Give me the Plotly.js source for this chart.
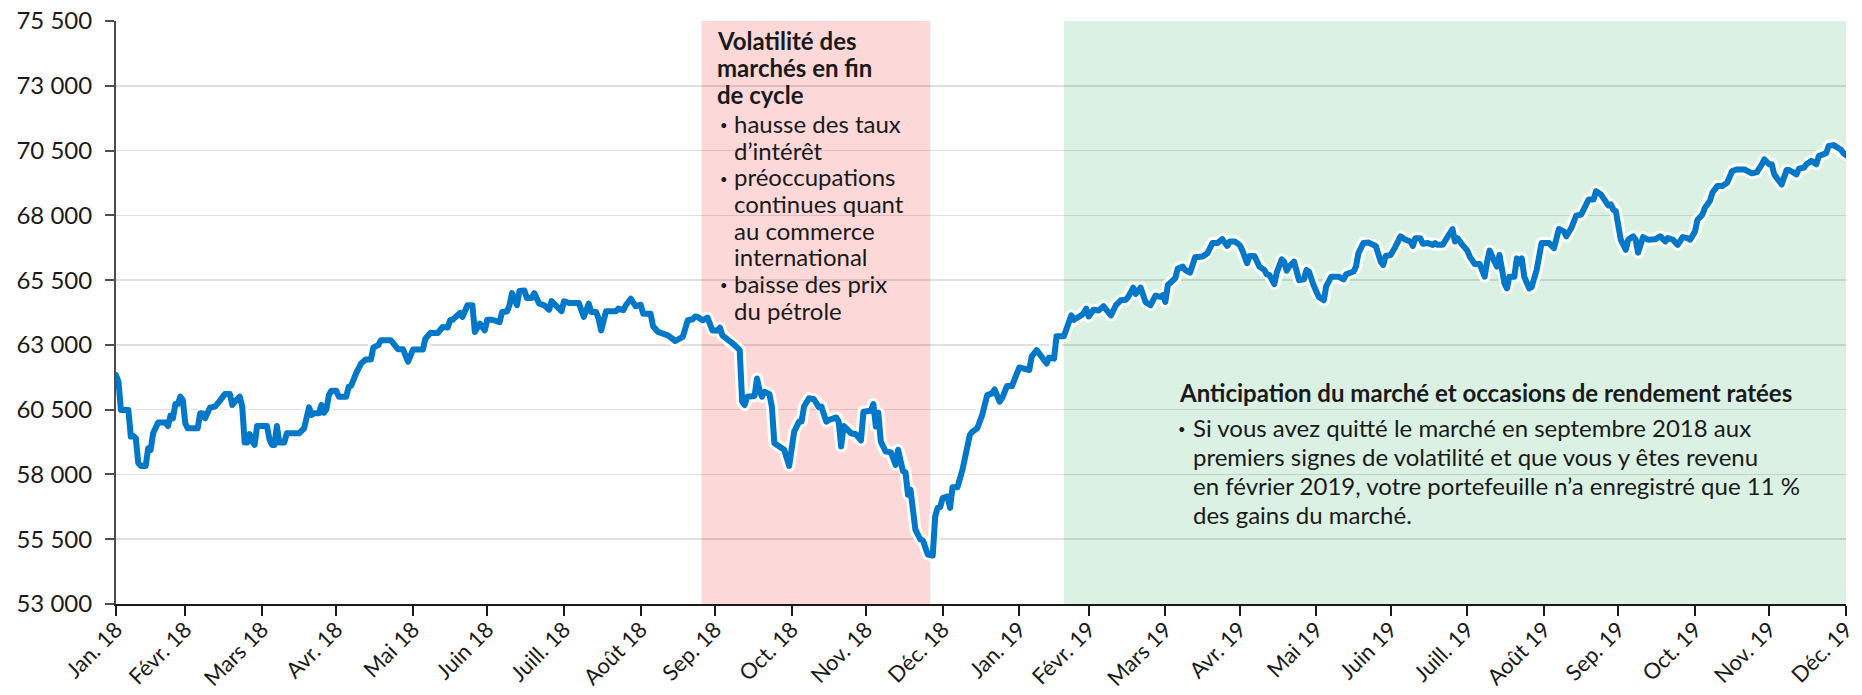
<!DOCTYPE html>
<html><head><meta charset="utf-8">
<script src="https://cdn.plot.ly/plotly-3.0.1.min.js"></script>
<style>html,body{margin:0;padding:0;background:#fff}#chart{width:1862px;height:695px}
#chart path.js-line{stroke-linejoin:round !important;stroke-linecap:round !important}</style>
</head><body><div id="chart"></div>
<script>
// ---------------- DATA ----------------
const dates2018 = ['2018-01-31','2018-02-01','2018-02-02','2018-02-05','2018-02-06','2018-02-07','2018-02-08','2018-02-09','2018-02-10','2018-02-12','2018-02-13','2018-02-14','2018-02-15','2018-02-17','2018-02-20','2018-02-21','2018-02-22','2018-02-23','2018-02-24','2018-02-25','2018-02-26','2018-02-27','2018-02-28',
'2018-03-01','2018-03-05','2018-03-06','2018-03-07','2018-03-08','2018-03-10','2018-03-12','2018-03-14','2018-03-16','2018-03-18','2018-03-19','2018-03-20','2018-03-22','2018-03-23','2018-03-24','2018-03-25','2018-03-26','2018-03-27','2018-03-28','2018-03-29',
'2018-04-02','2018-04-03','2018-04-04','2018-04-05','2018-04-06','2018-04-07','2018-04-09','2018-04-10','2018-04-15','2018-04-17','2018-04-18','2018-04-19','2018-04-20','2018-04-21','2018-04-23','2018-04-24','2018-04-25','2018-04-26','2018-04-27','2018-04-28','2018-04-30',
'2018-05-01','2018-05-04','2018-05-05','2018-05-06','2018-05-07','2018-05-08','2018-05-10','2018-05-12','2018-05-14','2018-05-15','2018-05-17','2018-05-18','2018-05-22','2018-05-24','2018-05-25','2018-05-27','2018-05-29','2018-05-31',
'2018-06-04','2018-06-05','2018-06-07','2018-06-10','2018-06-12','2018-06-14','2018-06-15','2018-06-16','2018-06-18','2018-06-19','2018-06-20','2018-06-21','2018-06-22','2018-06-24','2018-06-25','2018-06-27','2018-06-28','2018-06-29','2018-06-30',
'2018-07-02','2018-07-05','2018-07-06','2018-07-08','2018-07-09','2018-07-10','2018-07-12','2018-07-13','2018-07-15','2018-07-16','2018-07-18','2018-07-19','2018-07-21','2018-07-23','2018-07-25','2018-07-26','2018-07-28','2018-07-30','2018-07-31',
'2018-08-02','2018-08-06','2018-08-08','2018-08-10','2018-08-11','2018-08-13','2018-08-14','2018-08-15','2018-08-17','2018-08-21','2018-08-22','2018-08-24','2018-08-25','2018-08-27','2018-08-29','2018-08-31',
'2018-09-01','2018-09-04','2018-09-05','2018-09-07','2018-09-09','2018-09-11','2018-09-14','2018-09-16','2018-09-17','2018-09-19','2018-09-21','2018-09-22','2018-09-23','2018-09-25','2018-09-27','2018-09-28','2018-09-29',
'2018-10-01','2018-10-02','2018-10-03','2018-10-05','2018-10-07','2018-10-08','2018-10-10','2018-10-11','2018-10-12','2018-10-13','2018-10-16','2018-10-17','2018-10-18','2018-10-19','2018-10-20','2018-10-22','2018-10-23','2018-10-24','2018-10-26','2018-10-28','2018-10-30','2018-10-31',
'2018-11-01','2018-11-03','2018-11-04','2018-11-05','2018-11-07','2018-11-09','2018-11-11','2018-11-12','2018-11-14','2018-11-15','2018-11-17','2018-11-18','2018-11-19','2018-11-20','2018-11-21','2018-11-23','2018-11-24','2018-11-26','2018-11-28','2018-11-29','2018-11-30',
'2018-12-02','2018-12-03','2018-12-04','2018-12-05','2018-12-06','2018-12-08','2018-12-10','2018-12-11','2018-12-12','2018-12-13','2018-12-14','2018-12-15','2018-12-16','2018-12-17','2018-12-18','2018-12-19','2018-12-20','2018-12-22','2018-12-23','2018-12-25','2018-12-27','2018-12-28','2018-12-29','2018-12-30','2018-12-31'];
const values2018 = [61830,61580,60490,60490,59460,59490,59400,58440,58330,58330,59010,58950,59590,60000,60000,59870,60270,60170,60720,60720,61000,60870,59970,
59780,59780,60360,60360,60170,60580,60620,60850,61100,61100,60680,60810,61000,60620,59230,59230,59560,59270,59140,59870,
59870,59360,59140,59140,59870,59230,59230,59590,59590,59780,60230,60590,60300,60360,60360,60680,60380,60510,61060,61230,61230,
61000,61000,61380,61420,61770,61900,62280,62440,62440,62900,62990,63180,63180,62990,62830,62830,62350,62820,
62820,63240,63460,63460,63690,63670,63950,63970,64140,64230,64080,64400,64530,64530,63500,63820,63690,63560,63970,
63970,63880,64270,64290,64530,65000,64530,65080,65100,64810,64810,65000,64590,64530,64360,64690,64530,64300,64680,
64620,64620,64080,64590,64270,64270,64010,63560,64300,64300,64400,64340,64530,64780,64490,64550,
64200,64200,63720,63500,63410,63370,63150,63240,63310,63950,63990,64100,64080,63950,64050,63800,63560,
63560,63660,63370,63240,63080,62990,62800,60810,60680,61000,61030,61700,61250,61000,61190,61100,60620,59210,59080,58950,58330,58950,
59650,60040,60040,60620,60940,60900,60590,60620,60040,60100,60170,60200,60040,59080,59870,59720,59590,59550,59310,60420,60450,
60460,60720,59850,60390,59270,58880,58860,58630,58370,58950,58630,58120,58080,57220,57410,56770,55870,55490,55460,54910,54870,56390,56710,56740,57090];

const dates2019 = ['2019-01-02','2019-01-03','2019-01-04','2019-01-06','2019-01-08','2019-01-10','2019-01-11','2019-01-12','2019-01-14','2019-01-16','2019-01-18','2019-01-20','2019-01-21','2019-01-23','2019-01-24','2019-01-26','2019-01-28','2019-01-30','2019-01-31',
'2019-02-04','2019-02-05','2019-02-07','2019-02-09','2019-02-11','2019-02-12','2019-02-14','2019-02-15','2019-02-18','2019-02-21','2019-02-22','2019-02-25','2019-02-26','2019-02-27','2019-02-28',
'2019-03-02','2019-03-04','2019-03-06','2019-03-07','2019-03-09','2019-03-11','2019-03-13','2019-03-15','2019-03-16','2019-03-18','2019-03-19','2019-03-21','2019-03-22','2019-03-23','2019-03-25','2019-03-27','2019-03-29','2019-03-30','2019-03-31',
'2019-04-01','2019-04-04','2019-04-05','2019-04-07','2019-04-08','2019-04-10','2019-04-11','2019-04-12','2019-04-15','2019-04-17','2019-04-18','2019-04-19','2019-04-21','2019-04-23','2019-04-25','2019-04-26','2019-04-28','2019-04-30',
'2019-05-01','2019-05-03','2019-05-04','2019-05-06','2019-05-08','2019-05-10','2019-05-11','2019-05-12','2019-05-14','2019-05-15','2019-05-17','2019-05-18','2019-05-19','2019-05-20','2019-05-22','2019-05-24','2019-05-26','2019-05-27','2019-05-28','2019-05-29','2019-05-30',
'2019-06-01','2019-06-03','2019-06-04','2019-06-06','2019-06-09','2019-06-11','2019-06-12','2019-06-15','2019-06-16','2019-06-17','2019-06-19','2019-06-21','2019-06-23','2019-06-24','2019-06-26','2019-06-27','2019-06-28','2019-06-30',
'2019-07-02','2019-07-04','2019-07-06','2019-07-08','2019-07-09','2019-07-10','2019-07-12','2019-07-13','2019-07-15','2019-07-17','2019-07-18','2019-07-19','2019-07-21','2019-07-23','2019-07-25','2019-07-26','2019-07-27','2019-07-29','2019-07-31',
'2019-08-01','2019-08-03','2019-08-05','2019-08-07','2019-08-08','2019-08-09','2019-08-11','2019-08-12','2019-08-13','2019-08-15','2019-08-16','2019-08-17','2019-08-19','2019-08-20','2019-08-21','2019-08-22','2019-08-23','2019-08-25','2019-08-26','2019-08-28','2019-08-30',
'2019-09-02','2019-09-04','2019-09-06','2019-09-08','2019-09-09','2019-09-11','2019-09-12','2019-09-13','2019-09-15','2019-09-17','2019-09-18','2019-09-20','2019-09-21','2019-09-23','2019-09-25','2019-09-26','2019-09-27','2019-09-28','2019-09-29',
'2019-10-01','2019-10-03','2019-10-04','2019-10-06','2019-10-07','2019-10-08','2019-10-10','2019-10-12','2019-10-15','2019-10-17','2019-10-19','2019-10-20','2019-10-22','2019-10-24','2019-10-26','2019-10-28','2019-10-29','2019-10-31',
'2019-11-01','2019-11-03','2019-11-04','2019-11-06','2019-11-07','2019-11-09','2019-11-11','2019-11-13','2019-11-15','2019-11-17','2019-11-20','2019-11-23','2019-11-25','2019-11-27','2019-11-28','2019-11-30',
'2019-12-01','2019-12-02','2019-12-04','2019-12-05','2019-12-07','2019-12-08','2019-12-10','2019-12-11','2019-12-12','2019-12-14','2019-12-15','2019-12-17','2019-12-19','2019-12-20','2019-12-23','2019-12-24','2019-12-26','2019-12-27','2019-12-29','2019-12-30','2019-12-31'];
const values2019 = [57150,56710,57510,57510,58180,59080,59530,59650,59780,60300,61060,61130,61280,60810,60940,61410,61410,61900,62130,
62030,62560,62800,62560,62280,62510,62470,63330,63330,64140,63970,64140,64230,64400,64100,
64360,64330,64490,64360,64140,64530,64720,64740,64850,65210,64970,65210,64970,64650,64530,64900,64850,64920,64660,
65310,65570,65950,66020,65890,65790,66080,66380,66410,66540,66730,66930,66930,67080,66820,66990,66990,66860,
66670,66150,66430,66430,66020,65890,65720,65700,65350,65790,66300,66210,65860,66020,66210,65500,65530,65890,65830,65500,65270,
64850,64720,65270,65630,65630,65530,65720,65830,66020,66540,66930,66950,66860,66820,66210,66080,66430,66470,
66800,67190,67060,66990,66820,67120,67120,66900,66930,66860,66930,66860,66860,67160,67470,66990,67120,66860,66640,
66410,66120,66120,65630,66210,66640,66210,66020,66470,65370,65180,65630,65630,66340,66150,66340,65630,65180,65240,65890,66930,
66930,66730,67470,67380,67190,67510,67770,67990,68030,68380,68610,68610,68930,68800,68480,68380,68420,68220,68160,
67060,66670,67060,67190,67060,66560,67160,67060,67080,67190,66990,67120,67060,66860,67160,67120,67060,67380,
67830,68030,68290,68550,68870,69130,69130,69260,69710,69770,69770,69620,69670,69970,70160,69970,
69970,69580,69320,69190,69750,69750,69640,69580,69800,69840,69970,70100,69970,70290,70400,70680,70710,70660,70530,70400,70320];

const monthTicks = ['2018-01-31','2018-02-28','2018-03-31','2018-04-30','2018-05-31','2018-06-30','2018-07-31','2018-08-31','2018-09-30','2018-10-31','2018-11-30','2018-12-31',
'2019-01-31','2019-02-28','2019-03-31','2019-04-30','2019-05-31','2019-06-30','2019-07-31','2019-08-31','2019-09-30','2019-10-31','2019-11-30','2019-12-31'];
const monthLabels = ['Jan. 18','Févr. 18','Mars 18','Avr. 18','Mai 18','Juin 18','Juill. 18','Août 18','Sep. 18','Oct. 18','Nov. 18','Déc. 18',
'Jan. 19','Févr. 19','Mars 19','Avr. 19','Mai 19','Juin 19','Juill. 19','Août 19','Sep. 19','Oct. 19','Nov. 19','Déc. 19'];
const yTicks = [53000,55500,58000,60500,63000,65500,68000,70500,73000,75500];
const yTickLabels = ['53 000','55 500','58 000','60 500','63 000','65 500','68 000','70 500','73 000','75 500'];

const volatilityPeriod = ['2018-09-24 14:00','2018-12-26'];
const recoveryPeriod = ['2019-02-18','2019-12-31'];

const volatilityTitle = ['Volatilité des','marchés en fin','de cycle'];
const volatilityBullets = [['hausse des taux','d’intérêt'],['préoccupations','continues quant','au commerce','international'],['baisse des prix','du pétrole']];
const recoveryTitle = ['Anticipation du marché et occasions de rendement ratées'];
const recoveryBullets = [['Si vous avez quitté le marché en septembre 2018 aux','premiers signes de volatilité et que vous y êtes revenu','en février 2019, votre portefeuille n’a enregistré que 11 %','des gains du marché.']];

// ---------------- LAYOUT ----------------
const W = 1862, H = 695, ML = 116, MR = 16, MT = 21, MB = 91;
const PW = W - ML - MR, PH = H - MT - MB;
const FONT = 'Lato, "Open Sans", sans-serif';
const TXT = '#1a1a1a';
const px2x = px => (px - ML) / PW;
const px2y = py => 1 - (py - MT) / PH;

const annotations = [];
function textLine(text, xPx, baseline, size, bold) {
  annotations.push({xref:'paper', yref:'paper', x:px2x(xPx), y:px2y(baseline - 0.387*size),
    xanchor:'left', yanchor:'middle', showarrow:false, align:'left', borderpad:0,
    text: bold ? '<b>'+text+'</b>' : text, font:{family:FONT, size:size, color:TXT}});
}
function bullet(xPx, baseline) {
  annotations.push({xref:'paper', yref:'paper', x:px2x(xPx), y:px2y(baseline - 7.5),
    xanchor:'center', yanchor:'middle', showarrow:false, borderpad:0,
    text:'•', font:{family:FONT, size:13, color:TXT}});
}
function block(title, bullets, xTitle, xBullet, xText, firstBase, titleStep, gap, step, size) {
  let b = firstBase;
  title.forEach(t => { textLine(t, xTitle, b, size, true); b += titleStep; });
  b += gap - titleStep;
  bullets.forEach(item => {
    bullet(xBullet, b);
    item.forEach(line => { textLine(line, xText, b, size, false); b += step; });
  });
}
block(volatilityTitle, volatilityBullets, 716, 723.5, 733, 50, 26.7, 29.4, 26.65, 24);
block(recoveryTitle, recoveryBullets, 1178, 1182, 1192, 401.7, 29, 35, 28.9, 24);

const shapes = [
  {type:'rect', xref:'x', yref:'paper', x0:volatilityPeriod[0], x1:volatilityPeriod[1], y0:0, y1:1, fillcolor:'#fcd8d8', line:{width:0}, layer:'below'},
  {type:'rect', xref:'x', yref:'paper', x0:recoveryPeriod[0], x1:recoveryPeriod[1], y0:0, y1:1, fillcolor:'#daf1e3', line:{width:0}, layer:'below'}
];

const xs = dates2018.concat(dates2019);
const ys = values2018.concat(values2019);

const traces = [
  {x:xs, y:ys, type:'scatter', mode:'lines', line:{color:'#ffffff', width:12}, hoverinfo:'skip', showlegend:false},
  {x:xs, y:ys, type:'scatter', mode:'lines', line:{color:'#0077c8', width:6}, showlegend:false}
];

const layout = {
  width:W, height:H, margin:{l:ML, r:MR, t:MT, b:MB, pad:0},
  paper_bgcolor:'#ffffff', plot_bgcolor:'#ffffff',
  font:{family:FONT, size:24, color:TXT},
  showlegend:false,
  xaxis:{type:'date', range:[monthTicks[0], monthTicks[monthTicks.length-1]], tickmode:'array', tickvals:monthTicks, ticktext:monthLabels,
    tickangle:-45, ticks:'outside', ticklen:10, tickwidth:2, tickcolor:'#1a1a1a', showline:true, linecolor:'#1a1a1a', linewidth:2,
    showgrid:false, zeroline:false, tickfont:{family:FONT, size:22, color:TXT}, ticklabelstandoff:-8, fixedrange:true},
  yaxis:{range:[53000,75500], tickmode:'array', tickvals:yTicks, ticktext:yTickLabels, ticks:'outside', ticklen:9, tickwidth:2, tickcolor:'#4d4d4d',
    showline:true, linecolor:'#4d4d4d', linewidth:2, showgrid:true, gridcolor:'rgba(0,0,0,0.12)', gridwidth:1.5, zeroline:false,
    tickfont:{family:FONT, size:24, color:TXT}, ticklabelstandoff:8, fixedrange:true},
  shapes:shapes, annotations:annotations
};
Plotly.newPlot('chart', traces, layout, {displayModeBar:false, staticPlot:true});
</script></body></html>
